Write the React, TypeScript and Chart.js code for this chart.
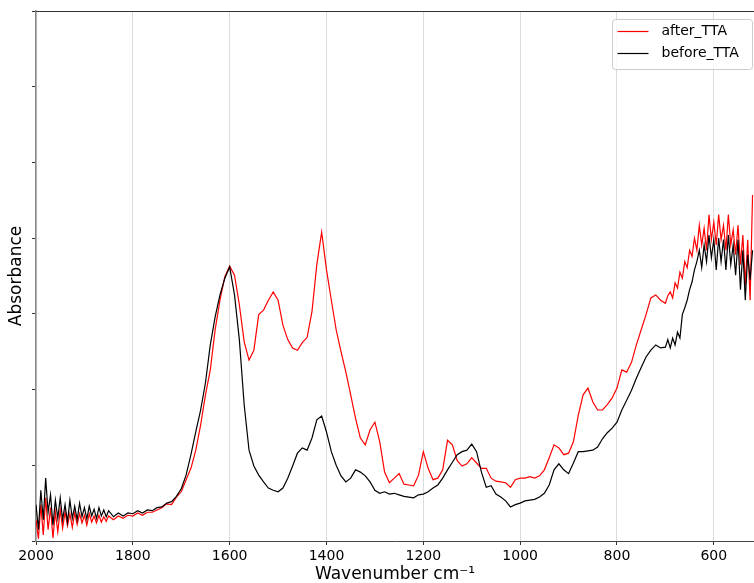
import React, { useEffect, useRef } from "react";
import { Chart, registerables } from "chart.js";

Chart.register(...registerables);

// Wavenumber grid (cm^-1), descending; finer at the noisy ends
const wavenumbers = [
  2000, 1995, 1990, 1985, 1980, 1975, 1970, 1965, 1960, 1955,
  1950, 1945, 1940, 1935, 1930, 1925, 1920, 1915, 1910, 1905,
  1900, 1895, 1890, 1885, 1880, 1875, 1870, 1865, 1860, 1855, 1850,
  1840, 1830, 1820, 1810,
  1800, 1790, 1780, 1770, 1760, 1750, 1740, 1730, 1720, 1710,
  1700, 1690, 1680, 1670, 1660, 1650, 1640, 1630, 1620, 1610,
  1600, 1590, 1580, 1570, 1560, 1550, 1540, 1530, 1520, 1510,
  1500, 1490, 1480, 1470, 1460, 1450, 1440, 1430, 1420, 1410,
  1400, 1390, 1380, 1370, 1360, 1350, 1340, 1330, 1320, 1310,
  1300, 1290, 1280, 1270, 1260, 1250, 1240, 1230, 1220, 1210,
  1200, 1190, 1180, 1170, 1160, 1150, 1140, 1130, 1120, 1110,
  1100, 1090, 1080, 1070, 1060, 1050, 1040, 1030, 1020, 1010,
  1000, 990, 980, 970, 960, 950, 940, 930, 920, 910,
  900, 890, 880, 870, 860, 850, 840, 830, 820, 810,
  800, 790, 780, 770, 760, 750, 740, 730, 720, 710,
  700, 695, 690, 685, 680, 675, 670, 665, 660, 655,
  650, 645, 640, 635, 630, 625, 620, 615, 610, 605,
  600, 595, 590, 585, 580, 575, 570, 565, 560, 555,
  550, 545, 540, 535, 530, 525, 520,
];

const afterTTA = [
  0.028, 0.003, 0.048, 0.008, 0.057, 0.015, 0.044, 0.004, 0.038, 0.012,
  0.041, 0.017, 0.038, 0.020, 0.036, 0.018, 0.037, 0.022, 0.036, 0.024,
  0.034, 0.021, 0.036, 0.025, 0.033, 0.024, 0.034, 0.025, 0.032, 0.026, 0.033,
  0.028, 0.033, 0.030, 0.034,
  0.033, 0.037, 0.034, 0.038, 0.038, 0.041, 0.044, 0.049, 0.048, 0.058,
  0.065, 0.081, 0.096, 0.120, 0.153, 0.193, 0.226, 0.279, 0.318, 0.349,
  0.363, 0.351, 0.312, 0.263, 0.239, 0.252, 0.299, 0.305, 0.318, 0.329,
  0.318, 0.285, 0.266, 0.255, 0.252, 0.262, 0.269, 0.303, 0.365, 0.408,
  0.358, 0.318, 0.279, 0.250, 0.223, 0.193, 0.162, 0.136, 0.127, 0.147,
  0.157, 0.131, 0.091, 0.077, 0.083, 0.089, 0.075, 0.074, 0.073, 0.087,
  0.118, 0.096, 0.081, 0.083, 0.094, 0.133, 0.127, 0.106, 0.099, 0.102,
  0.110, 0.103, 0.096, 0.096, 0.083, 0.079, 0.078, 0.077, 0.071, 0.081,
  0.083, 0.083, 0.085, 0.083, 0.086, 0.094, 0.110, 0.127, 0.123, 0.114,
  0.116, 0.131, 0.166, 0.193, 0.202, 0.184, 0.173, 0.173, 0.180, 0.189,
  0.202, 0.226, 0.223, 0.236, 0.259, 0.279, 0.299, 0.321, 0.325, 0.318,
  0.314, 0.324, 0.329, 0.321, 0.341, 0.334, 0.355, 0.347, 0.369, 0.361,
  0.384, 0.376, 0.400, 0.384, 0.417, 0.391, 0.413, 0.384, 0.431, 0.398,
  0.421, 0.391, 0.431, 0.398, 0.417, 0.384, 0.431, 0.391, 0.411, 0.378,
  0.417, 0.365, 0.404, 0.338, 0.398, 0.318, 0.457,
];

const beforeTTA = [
  0.048, 0.015, 0.067, 0.028, 0.083, 0.038, 0.061, 0.021, 0.054, 0.030,
  0.057, 0.028, 0.048, 0.025, 0.054, 0.030, 0.046, 0.028, 0.050, 0.032,
  0.044, 0.029, 0.046, 0.033, 0.042, 0.030, 0.044, 0.033, 0.041, 0.032, 0.040,
  0.032, 0.037, 0.033, 0.037,
  0.036, 0.040, 0.037, 0.041, 0.040, 0.044, 0.045, 0.050, 0.052, 0.059,
  0.069, 0.087, 0.114, 0.144, 0.173, 0.209, 0.259, 0.296, 0.325, 0.347,
  0.362, 0.325, 0.266, 0.180, 0.120, 0.099, 0.087, 0.078, 0.070, 0.067,
  0.065, 0.070, 0.083, 0.099, 0.116, 0.123, 0.120, 0.136, 0.160, 0.165,
  0.144, 0.118, 0.100, 0.086, 0.078, 0.083, 0.094, 0.091, 0.086, 0.078,
  0.067, 0.063, 0.065, 0.062, 0.063, 0.061, 0.059, 0.058, 0.057, 0.061,
  0.062, 0.065, 0.070, 0.074, 0.083, 0.094, 0.104, 0.114, 0.118, 0.120,
  0.128, 0.118, 0.091, 0.071, 0.073, 0.062, 0.058, 0.053, 0.045, 0.048,
  0.050, 0.053, 0.054, 0.055, 0.058, 0.063, 0.074, 0.094, 0.102, 0.094,
  0.089, 0.103, 0.118, 0.118, 0.119, 0.120, 0.124, 0.135, 0.143, 0.149,
  0.157, 0.173, 0.186, 0.199, 0.215, 0.229, 0.243, 0.252, 0.259, 0.255,
  0.256, 0.266, 0.255, 0.268, 0.259, 0.276, 0.268, 0.299, 0.308, 0.318,
  0.332, 0.342, 0.358, 0.369, 0.384, 0.361, 0.391, 0.369, 0.404, 0.374,
  0.398, 0.358, 0.400, 0.369, 0.398, 0.358, 0.404, 0.365, 0.391, 0.351,
  0.398, 0.332, 0.384, 0.318, 0.378, 0.345, 0.384,
];

const xTickValues = [2000, 1800, 1600, 1400, 1200, 1000, 800, 600];
const seriesLabels = ["after_TTA", "before_TTA"];
const seriesColors = ["#ff0000", "#000000"];

const FONT = "'DejaVu Sans', sans-serif";

const frameAndLegend = {
  id: "frameAndLegend",
  afterDraw(chart: any) {
    const ctx = chart.ctx;
    const a = chart.chartArea;
    ctx.save();
    // top spine
    ctx.strokeStyle = "#333333";
    ctx.lineWidth = 1;
    ctx.beginPath();
    ctx.moveTo(a.left, a.top + 0.5);
    ctx.lineTo(a.right, a.top + 0.5);
    ctx.stroke();

    // legend box
    const w = 140, h = 50;
    const x = a.right - w - 1.5, y = a.top + 8.5;
    const r = 3;
    ctx.beginPath();
    ctx.moveTo(x + r, y);
    ctx.lineTo(x + w - r, y);
    ctx.quadraticCurveTo(x + w, y, x + w, y + r);
    ctx.lineTo(x + w, y + h - r);
    ctx.quadraticCurveTo(x + w, y + h, x + w - r, y + h);
    ctx.lineTo(x + r, y + h);
    ctx.quadraticCurveTo(x, y + h, x, y + h - r);
    ctx.lineTo(x, y + r);
    ctx.quadraticCurveTo(x, y, x + r, y);
    ctx.closePath();
    ctx.fillStyle = "rgba(255,255,255,0.8)";
    ctx.fill();
    ctx.strokeStyle = "#cccccc";
    ctx.lineWidth = 1;
    ctx.stroke();

    ctx.font = `14px ${FONT}`;
    ctx.textBaseline = "middle";
    ctx.textAlign = "left";
    seriesLabels.forEach((label, i) => {
      const ly = y + 12 + i * 22;
      ctx.strokeStyle = seriesColors[i];
      ctx.lineWidth = 1.2;
      ctx.beginPath();
      ctx.moveTo(x + 5, ly);
      ctx.lineTo(x + 36, ly);
      ctx.stroke();
      ctx.fillStyle = "#000000";
      ctx.fillText(label, x + 49, ly);
    });
    ctx.restore();
  },
};

export default function App() {
  const canvasRef = useRef<HTMLCanvasElement | null>(null);

  useEffect(() => {
    if (!canvasRef.current) return;
    const mk = (vals: number[]) => wavenumbers.map((w, i) => ({ x: w, y: vals[i] }));
    const chart = new Chart(canvasRef.current, {
      type: "line",
      data: {
        datasets: [
          {
            label: seriesLabels[0],
            data: mk(afterTTA),
            borderColor: seriesColors[0],
            borderWidth: 1.2,
            pointRadius: 0,
            tension: 0,
            fill: false,
            order: 2,
          },
          {
            label: seriesLabels[1],
            data: mk(beforeTTA),
            borderColor: seriesColors[1],
            borderWidth: 1.2,
            pointRadius: 0,
            tension: 0,
            fill: false,
            order: 1,
          },
        ],
      },
      options: {
        animation: false,
        responsive: false,
        devicePixelRatio: 1,
        layout: { padding: { top: 11, right: 0, left: 0, bottom: 0 } },
        plugins: {
          legend: { display: false },
          tooltip: { enabled: false },
        },
        scales: {
          x: {
            type: "linear",
            reverse: true,
            min: 517,
            max: 2000,
            afterBuildTicks: (s: any) => {
              s.ticks = xTickValues.map((v) => ({ value: v }));
            },
            afterFit: (s: any) => {
              s.height = 42;
            },
            ticks: {
              color: "#000000",
              font: { family: FONT, size: 14 },
              padding: 3,
              maxRotation: 0,
              autoSkip: false,
              callback: (v: any) => String(v),
            },
            grid: {
              color: "#dcdcdc",
              lineWidth: 1,
              tickColor: "#333333",
              tickLength: 4,
            },
            border: { display: true, color: "#444444", width: 1 },
            title: {
              display: true,
              text: "Wavenumber cm\u207B\u00B9",
              color: "#000000",
              font: { family: FONT, size: 17, lineHeight: 1 },
              padding: 0,
            },
          },
          y: {
            min: 0,
            max: 0.7,
            afterFit: (s: any) => {
              s.width = 36;
            },
            ticks: {
              stepSize: 0.1,
              callback: () => "",
              padding: 0,
            },
            grid: {
              drawOnChartArea: false,
              tickColor: "#333333",
              tickLength: 4,
            },
            border: { display: true, color: "#888888", width: 1.5 },
            title: {
              display: true,
              text: "Absorbance",
              color: "#000000",
              font: { family: FONT, size: 17, lineHeight: 1 },
              padding: { top: 8.5, bottom: 0 },
            },
          },
        },
      },
      plugins: [frameAndLegend],
    });
    return () => chart.destroy();
  }, []);

  return (
    <div style={{ position: "absolute", left: 0, top: 0, width: 754, height: 583, background: "#ffffff" }}>
      <canvas ref={canvasRef} width={754} height={583} style={{ display: "block" }} />
    </div>
  );
}
